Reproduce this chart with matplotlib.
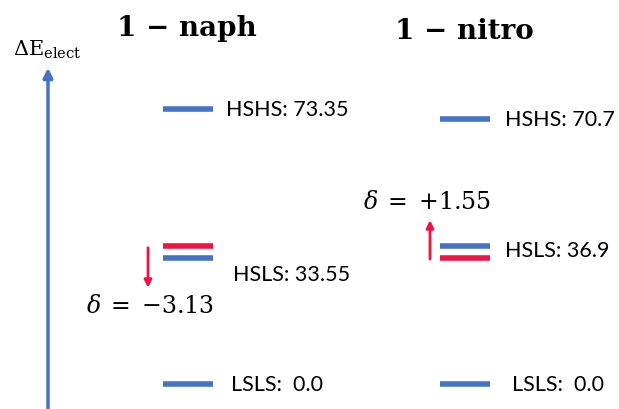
import matplotlib.pyplot as plt

# energies (kcal/mol)
systems = ['1 \u2212 naph', '1 \u2212 nitro']
states = ['HSHS', 'HSLS', 'LSLS']
naph_levels = [73.35, 33.55, 0.0]
nitro_levels = [70.7, 36.9, 0.0]
naph_labels = ['HSHS: 73.35', 'HSLS: 33.55', 'LSLS:  0.0']
nitro_labels = ['HSHS: 70.7', 'HSLS: 36.9', 'LSLS:  0.0']
deltas = [-3.13, 1.55]
delta_labels = [r'$\delta\;=\;{-}3.13$', r'$\delta\;=\;{+}1.55$']

blue = '#4472C4'
red = '#EE1443'

plt.rcParams['mathtext.fontset'] = 'dejavuserif'

fig = plt.figure(figsize=(6.19, 4.10), dpi=100)
ax = fig.add_axes([0, 0, 1, 1])
ax.set_xlim(0, 619)
ax.set_ylim(-6.67, 102.67)
ax.axis('off')

# layout of the two columns (pixels across)
col_x = [163, 440]
line_w = 50
title_y = [95.0, 94.2]
gap = 3.3  # visual gap between the paired HSLS lines

# energy axis arrow
ax.annotate('', xy=(48, 84.3), xytext=(48, -6.67),
            arrowprops=dict(arrowstyle='-|>', color=blue, lw=2.5,
                            mutation_scale=14, shrinkA=0, shrinkB=0))
ax.text(47, 89.3, r'$\Delta\mathrm{E}_{\mathrm{elect}}$', ha='center',
        va='center', fontsize=15)

all_levels = [naph_levels, nitro_levels]
all_labels = [naph_labels, nitro_labels]
label_dy = [[0, -4.2, 0], [0, -1.3, 0]]
label_dx = [[13, 20, 18], [15, 15, 22]]

for i in range(2):
    x0 = col_x[i]
    ax.text(x0 + 24, title_y[i], systems[i], ha='center', va='center',
            fontsize=20, fontweight='bold', family='DejaVu Serif')
    for j, e in enumerate(all_levels[i]):
        ax.plot([x0, x0 + line_w], [e, e], color=blue, lw=4,
                solid_capstyle='butt')
        ax.text(x0 + line_w + label_dx[i][j], e + label_dy[i][j],
                all_labels[i][j], ha='left', va='center', fontsize=15.5,
                family='Lato')

    # paired HSLS line and shift arrow
    e = all_levels[i][1]
    d = deltas[i]
    sign = -1 if d < 0 else 1
    e_red = e - sign * gap
    ax.plot([x0, x0 + line_w], [e_red, e_red], color=red, lw=4,
            solid_capstyle='butt')

for i in range(2):
    x0 = col_x[i]
    e = all_levels[i][1]
    d = deltas[i]
    if d < 0:
        ax_x = x0 - 15
        start, end = e + 2.8, e - 7.9
        ax.text(x0 - 13, e - 12.6, delta_labels[i], ha='center', va='center',
                fontsize=17)
    else:
        ax_x = x0 - 10
        start, end = e - gap - 0.3, e + 6.8
        ax.text(x0 - 13, e + 11.8, delta_labels[i], ha='center', va='center',
                fontsize=17)
    ax.annotate('', xy=(ax_x, end), xytext=(ax_x, start),
                arrowprops=dict(arrowstyle='-|>', color=red, lw=2,
                                mutation_scale=11, shrinkA=0, shrinkB=0))

fig.savefig('out.png', dpi=100)
